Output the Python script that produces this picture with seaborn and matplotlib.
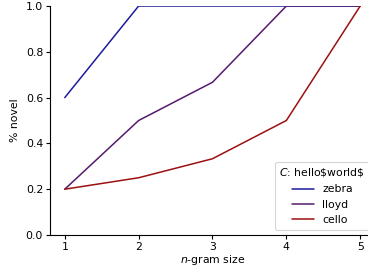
import pandas as pd
import seaborn as sns
import matplotlib.pyplot as plt

# data ----------------------------------------------------------------
ngram = [1, 2, 3, 4, 5]
zebra = [0.6, 1.0, 1.0, 1.0, 1.0]
lloyd = [0.2, 0.5, 0.667, 1.0, 1.0]
cello = [0.2, 0.25, 0.333, 0.5, 1.0]
words = ["zebra", "lloyd", "cello"]
colors = ["#1c1c9c", "#551a6e", "#9c1010"]

df = pd.DataFrame({
    "n": ngram * 3,
    "novel": zebra + lloyd + cello,
    "word": sum([[w] * len(ngram) for w in words], []),
})

sns.set_style("ticks", {"axes.edgecolor": "black", "xtick.color": "black",
                        "ytick.color": "black", "text.color": "black",
                        "axes.labelcolor": "black"})
plt.rcParams["font.family"] = ["DejaVu Sans"]
fs = 7.8

fig = plt.figure(figsize=(3.68, 2.71), dpi=100)
# axes runs slightly past the right edge of the figure, as in the reference
ax = fig.add_axes([50 / 368, 36 / 271, 325 / 368, 229 / 271])

sns.lineplot(data=df, x="n", y="novel", hue="word", hue_order=words,
             palette=colors, linewidth=1.1, ax=ax)
sns.despine(ax=ax, top=True, right=True)

ax.set_ylim(0, 1)
ax.set_xlim(0.8, 5.2)
ax.set_xticks(ngram)
ax.set_yticks([0, 0.2, 0.4, 0.6, 0.8, 1.0])
ax.tick_params(labelsize=fs, length=3, width=0.8, pad=2)
for s in ax.spines.values():
    s.set_linewidth(0.8)
ax.set_xlabel("$n$-gram size", fontsize=fs, labelpad=1)
ax.set_ylabel("% novel", fontsize=fs, labelpad=4)

leg = ax.legend(title="$C$: hello\\$world\\$", loc="lower right",
                borderaxespad=0.5, fontsize=fs, title_fontsize=fs, frameon=True)
leg.get_frame().set_linewidth(0.8)

fig.savefig("out.png", dpi=100)
